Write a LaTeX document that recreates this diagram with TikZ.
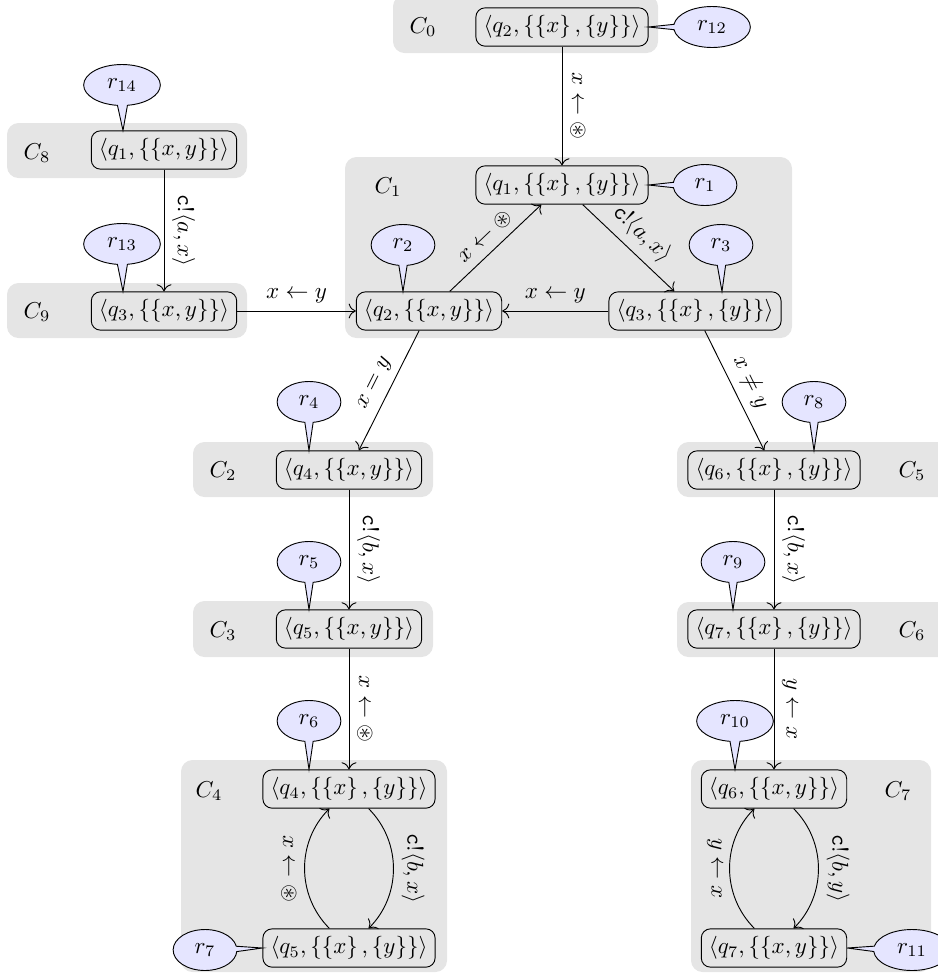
\documentclass[tikz,border=0pt]{standalone}
\usepackage{amsmath,amssymb}
\usetikzlibrary{shapes.callouts,arrows.meta}
\begin{document}
\begin{tikzpicture}[x=0.435pt,y=-0.435pt,
  st/.style={draw, rounded corners=4pt, inner sep=3.33pt},
  cfg/.style={fill=gray!20, rounded corners=5pt},
  rc/.style={ellipse callout, draw, fill=blue!10, inner xsep=5.3pt, inner ysep=3.4pt},
  tr/.style={-{To[scale=1.25]}},
  lr/.style={midway, rotate=-90, anchor=south},
  ll/.style={midway, rotate=-90, anchor=north},
  sl/.style={midway, above, sloped}]
\useasboundingbox (0,0) rectangle (938,978);
% configuration backgrounds
\fill[cfg] (393,-5) rectangle (658,53);
\fill[cfg] (345,157) rectangle (792,338);
\fill[cfg] (7,123) rectangle (247,178);
\fill[cfg] (7,283) rectangle (247,338);
\fill[cfg] (193,442) rectangle (433,497);
\fill[cfg] (193,601) rectangle (433,657);
\fill[cfg] (181,760) rectangle (447,972);
\fill[cfg] (677,442) rectangle (955,497);
\fill[cfg] (677,602) rectangle (955,657);
\fill[cfg] (691,760) rectangle (931,972);
% configuration labels
\node (L0) at (423,27) {$C_0$};
\node (L1) at (388,187) {$C_1$};
\node (L2) at (223,471) {$C_2$};
\node (L3) at (223,631) {$C_3$};
\node (L4) at (209,791) {$C_4$};
\node (L5) at (912,471) {$C_5$};
\node (L6) at (912,631) {$C_6$};
\node (L7) at (898,791) {$C_7$};
\node (L8) at (37,153) {$C_8$};
\node (L9) at (37,312) {$C_9$};
% states
\node[st] (c0n) at (562,27) {$\langle q_2, \{\left\{x\right\}, \left\{y\right\}\}\rangle$};
\node[st] (c1q1) at (562,185) {$\langle q_1, \{\left\{x\right\}, \left\{y\right\}\}\rangle$};
\node[st] (c1q2) at (429,311) {$\langle q_2, \{\{x,y\}\}\rangle$};
\node[st] (c1q3) at (695,311) {$\langle q_3, \{\left\{x\right\}, \left\{y\right\}\}\rangle$};
\node[st] (c8n) at (164,150) {$\langle q_1, \{\{x,y\}\}\rangle$};
\node[st] (c9n) at (164,311) {$\langle q_3, \{\{x,y\}\}\rangle$};
\node[st] (c2n) at (349,470) {$\langle q_4, \{\{x,y\}\}\rangle$};
\node[st] (c3n) at (349,629) {$\langle q_5, \{\{x,y\}\}\rangle$};
\node[st] (c4q4) at (349,789) {$\langle q_4, \{\left\{x\right\}, \left\{y\right\}\}\rangle$};
\node[st] (c4q5) at (349,948) {$\langle q_5, \{\left\{x\right\}, \left\{y\right\}\}\rangle$};
\node[st] (c5n) at (774,470) {$\langle q_6, \{\left\{x\right\}, \left\{y\right\}\}\rangle$};
\node[st] (c6n) at (774,629) {$\langle q_7, \{\left\{x\right\}, \left\{y\right\}\}\rangle$};
\node[st] (c7q6) at (774,789) {$\langle q_6, \{\{x,y\}\}\rangle$};
\node[st] (c7q7) at (774,948) {$\langle q_7, \{\{x,y\}\}\rangle$};
% transitions
\draw[tr] (c0n) -- (c1q1) node[lr] {$x\leftarrow\circledast$};
\draw[tr] (c1q2) -- (c1q1) node[sl] {$x\leftarrow\circledast$};
\draw[tr] (c1q1) -- (c1q3) node[sl] {$\texttt{c}!\langle a,x\rangle$};
\draw[tr] (c1q3) -- (c1q2) node[midway, above] {$x\leftarrow y$};
\draw[tr] (c8n) -- (c9n) node[lr] {$\texttt{c}!\langle a,x\rangle$};
\draw[tr] (c9n) -- (c1q2) node[midway, above] {$x\leftarrow y$};
\draw[tr] (c1q2) -- (c2n) node[sl] {$x=y$};
\draw[tr] (c1q3) -- (c5n) node[sl] {$x\neq y$};
\draw[tr] (c2n) -- (c3n) node[lr] {$\texttt{c}!\langle b,x\rangle$};
\draw[tr] (c3n) -- (c4q4) node[lr] {$x\leftarrow\circledast$};
\draw[tr] (c4q5) to[bend left=45] node[ll] {$x\leftarrow\circledast$} (c4q4);
\draw[tr] (c4q4) to[bend left=45] node[lr] {$\texttt{c}!\langle b,x\rangle$} (c4q5);
\draw[tr] (c5n) -- (c6n) node[lr] {$\texttt{c}!\langle b,x\rangle$};
\draw[tr] (c6n) -- (c7q6) node[lr] {$y\leftarrow x$};
\draw[tr] (c7q7) to[bend left=45] node[ll] {$y\leftarrow x$} (c7q6);
\draw[tr] (c7q6) to[bend left=45] node[lr] {$\texttt{c}!\langle b,y\rangle$} (c7q7);
% callouts
\node[rc, callout absolute pointer=(c0n.east)] (r12) at (712,27) {$r_{12}$};
\node[rc, callout absolute pointer=(c1q1.east)] (r1) at (705,185) {$r_{1}$};
\node[rc, callout absolute pointer={(403,0 |- c1q2.north)}] (r2) at (403,245) {$r_{2}$};
\node[rc, callout absolute pointer={(722,0 |- c1q3.north)}] (r3) at (721,245) {$r_{3}$};
\node[rc, callout absolute pointer={(123,0 |- c8n.north)}] (r14) at (122,85) {$r_{14}$};
\node[rc, callout absolute pointer={(123,0 |- c9n.north)}] (r13) at (122,244) {$r_{13}$};
\node[rc, callout absolute pointer={(309,0 |- c2n.north)}] (r4) at (309,402) {$r_{4}$};
\node[rc, callout absolute pointer={(309,0 |- c3n.north)}] (r5) at (309,562) {$r_{5}$};
\node[rc, callout absolute pointer={(309,0 |- c4q4.north)}] (r6) at (309,721) {$r_{6}$};
\node[rc, callout absolute pointer=(c4q5.west)] (r7) at (205,950) {$r_{7}$};
\node[rc, callout absolute pointer={(814,0 |- c5n.north)}] (r8) at (814,402) {$r_{8}$};
\node[rc, callout absolute pointer={(733,0 |- c6n.north)}] (r9) at (733,562) {$r_{9}$};
\node[rc, callout absolute pointer={(735,0 |- c7q6.north)}] (r10) at (735,721) {$r_{10}$};
\node[rc, callout absolute pointer=(c7q7.east)] (r11) at (912,950) {$r_{11}$};
\end{tikzpicture}
\end{document}
